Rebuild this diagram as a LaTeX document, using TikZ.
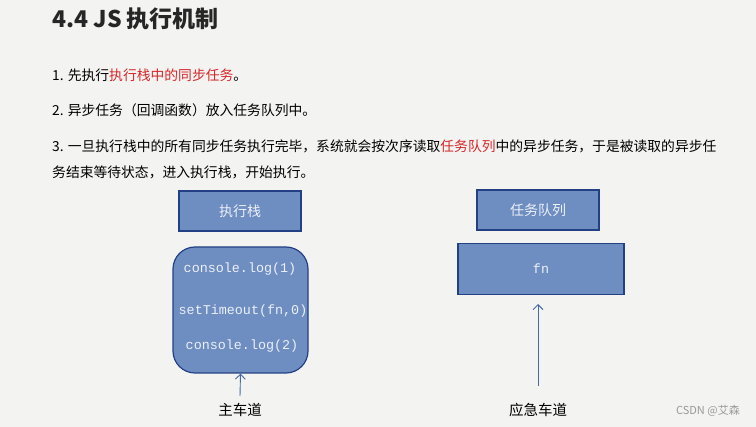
\documentclass[tikz,border=0pt]{standalone}
\usepackage{fontspec}
\usepackage{xcolor}
\setmainfont{Noto Sans CJK SC}
\setmonofont{Liberation Mono}
\definecolor{pagebg}{RGB}{243,244,242}
\definecolor{boxfill}{RGB}{110,141,193}
\definecolor{boxline}{RGB}{36,64,132}
\definecolor{boxtext}{RGB}{236,240,248}
\definecolor{hilite}{RGB}{214,38,40}
\definecolor{arrowblue}{RGB}{70,105,165}
\usetikzlibrary{arrows.meta}

\begin{document}
\begin{tikzpicture}[x=1pt,y=-1pt,
    line/.style={anchor=west,inner sep=0pt,font=\fontsize{13.8}{16}\selectfont},
    stackbox/.style={draw=boxline,fill=boxfill,line width=1.2pt,text=boxtext,font=\fontsize{14}{16}\selectfont},
    codeline/.style={text=boxtext,font=\ttfamily\fontsize{13.4}{16}\selectfont,inner sep=0pt},
    lane/.style={font=\fontsize{14.5}{16}\selectfont,inner sep=0pt},
    uparrow/.style={draw=arrowblue,line width=0.9pt,-{Straight Barb[length=5pt,width=10pt]}}]
    \fill[pagebg] (0,0) rectangle (756,427);
    \useasboundingbox (0,0) rectangle (756,427);
    % title and notes
    \node[anchor=west,inner sep=0pt,font=\bfseries\fontsize{23}{25}\selectfont,text=black!85] (title) at (52,19) {4.4 JS 执行机制};
    \node[line] (note1) at (52,75) {1. 先执行\textcolor{hilite}{执行栈中的同步任务}。};
    \node[line] (note2) at (52,110) {2. 异步任务（回调函数）放入任务队列中。};
    \node[line] (note3) at (52,146) {3. 一旦执行栈中的所有同步任务执行完毕，系统就会按次序读取\textcolor{hilite}{任务队列}中的异步任务，于是被读取的异步任};
    \node[line] (note4) at (52,172) {务结束等待状态，进入执行栈，开始执行。};
    % main lane
    \node[stackbox,minimum width=122pt,minimum height=40pt] (stack) at (240,211) {执行栈};
    \node[stackbox,rounded corners=22pt,minimum width=135pt,minimum height=126pt] (code) at (240.5,310) {};
    \node[codeline] (log1) at (240,269) {console.log(1)};
    \node[codeline] (timer) at (243,311) {setTimeout(fn,0)};
    \node[codeline] (log2) at (242,346) {console.log(2)};
    \node[lane] (mainlane) at (240,410) {主车道};
    \coordinate (mainfoot) at (240,396);
    \draw[uparrow] (mainfoot) -- (code.south);
    % emergency lane
    \node[stackbox,minimum width=122pt,minimum height=40pt] (queue) at (538,210) {任务队列};
    \node[stackbox,minimum width=166pt,minimum height=51pt,font=\ttfamily\fontsize{13.4}{16}\selectfont] (fn) at (541,269) {fn};
    \node[lane] (urgentlane) at (538,410) {应急车道};
    \coordinate (urgentfoot) at (538,386);
    \coordinate (urgenttip) at (538,304);
    \draw[uparrow] (urgentfoot) -- (urgenttip);
    % watermark
    \node[anchor=east,inner sep=0pt,text=black!40,font=\fontsize{11}{12}\selectfont] (mark) at (740,411) {CSDN @艾森};
\end{tikzpicture}
\end{document}
